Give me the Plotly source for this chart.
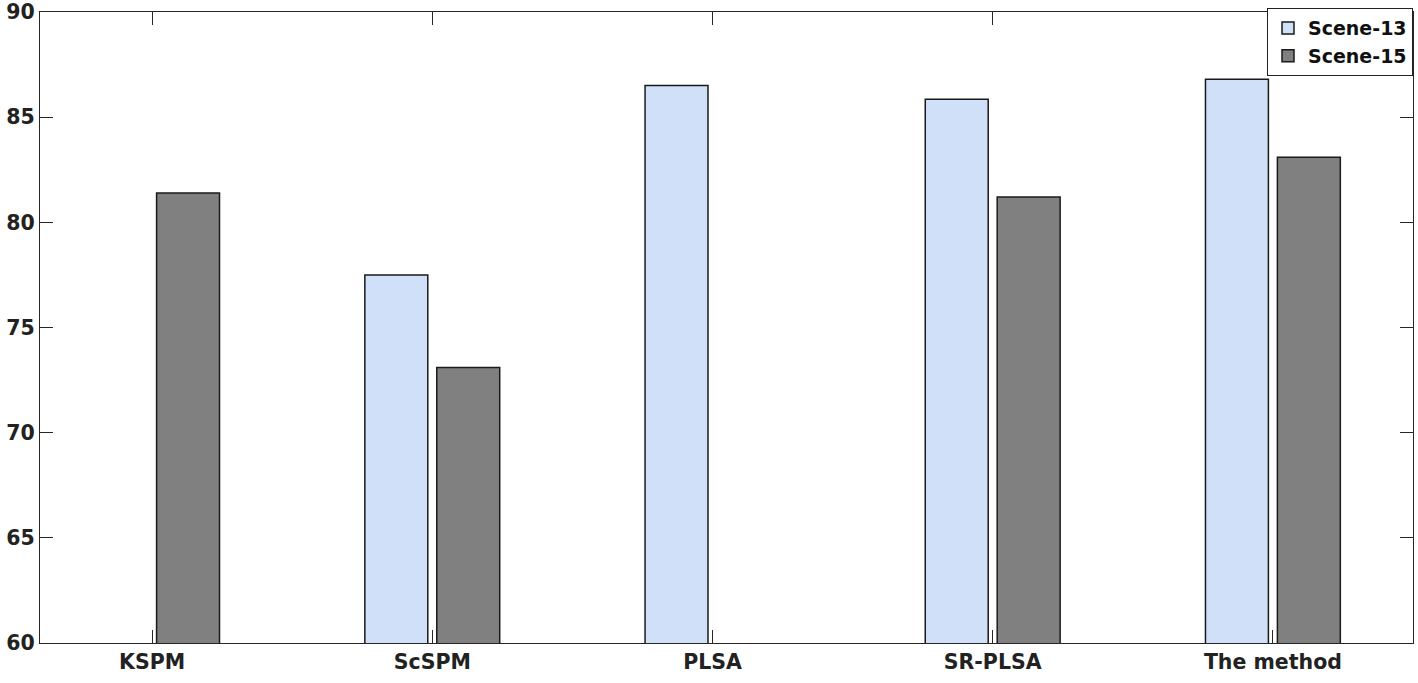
import plotly.graph_objects as go

categories = ["KSPM", "ScSPM", "PLSA", "SR-PLSA", "The method"]
scene13 = [None, 77.5, 86.5, 85.85, 86.8]
scene15 = [81.4, 73.1, None, 81.2, 83.1]
series_names = ["Scene-13", "Scene-15"]
y_ticks = [60, 65, 70, 75, 80, 85, 90]

fig = go.Figure()
fig.add_trace(go.Bar(
    x=categories, y=scene13, name=series_names[0],
    marker=dict(color="rgb(207,224,248)", line=dict(color="#1a1a1a", width=1.5)),
))
fig.add_trace(go.Bar(
    x=categories, y=scene15, name=series_names[1],
    marker=dict(color="rgb(128,128,128)", line=dict(color="#1a1a1a", width=1.5)),
))

font_bold = dict(family="DejaVu Sans", size=20.5, color="#222222", weight="bold")

fig.update_layout(
    width=1418, height=683,
    margin=dict(l=40, r=5, t=12, b=40, autoexpand=False),
    paper_bgcolor="white", plot_bgcolor="white",
    barmode="group", bargap=0.4866, bargroupgap=0.125,
    showlegend=True,
    legend=dict(
        x=1.0, xanchor="right", y=1.006, yanchor="top",
        bgcolor="white", bordercolor="#222222", borderwidth=1,
        font=dict(family="DejaVu Sans", size=19, color="#111111", weight="bold"),
        tracegroupgap=4, itemwidth=30,
    ),
    xaxis=dict(
        type="category", range=[-0.4, 4.5], automargin=False,
        showline=True, linecolor="#262626", linewidth=1.2, mirror="allticks",
        ticks="inside", ticklen=13, tickcolor="#262626", tickwidth=1,
        tickfont=font_bold, showgrid=False, zeroline=False,
    ),
    yaxis=dict(
        range=[60, 90], tickvals=y_ticks, automargin=False,
        showline=True, linecolor="#262626", linewidth=1.2, mirror="allticks",
        ticks="inside", ticklen=13, tickcolor="#262626", tickwidth=1,
        tickfont=font_bold, showgrid=False, zeroline=False,
        ticklabeloverflow="allow",
    ),
)

fig.write_html(
    "out.html",
    config={"displayModeBar": False},
    post_script="document.body.style.margin='0';document.body.style.overflow='hidden';",
)
